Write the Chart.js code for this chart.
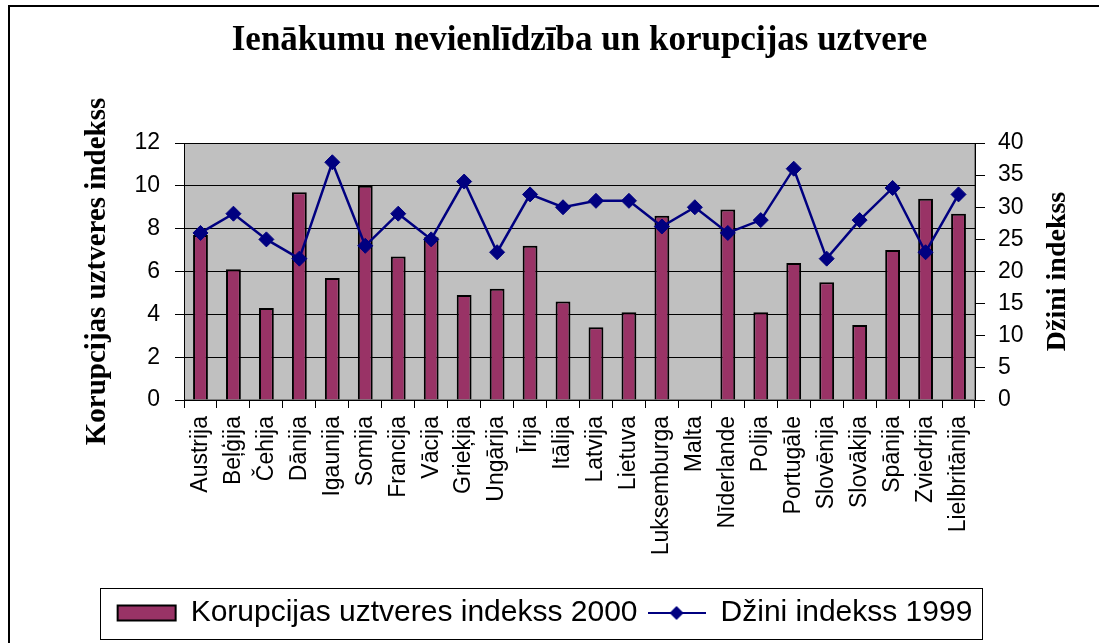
<!DOCTYPE html>
<html>
<head>
<meta charset="utf-8">
<title>Ienākumu nevienlīdzība un korupcijas uztvere</title>
<script src="https://cdn.jsdelivr.net/npm/chart.js@4.4.0/dist/chart.umd.min.js"></script>
<style>
  html, body { margin: 0; padding: 0; background: #fff; overflow: hidden; }
  #wrap { position: relative; width: 1099px; height: 643px; }
  #frame { position: absolute; left: 8px; top: 5px; width: 1200px; height: 800px; border-left: 2px solid #000; border-top: 2px solid #000; }
  canvas { position: absolute; left: 0; top: 0; }
</style>
</head>
<body>
<div id="wrap">
  <div id="frame"></div>
  <canvas id="graph" width="1099" height="643"></canvas>
</div>
<script>
let chartTitle = 'Ienākumu nevienlīdzība un korupcijas uztvere'
let leftAxisTitle = 'Korupcijas uztveres indekss'
let rightAxisTitle = 'Džini indekss'

let countries = ['Austrija', 'Beļģija', 'Čehija', 'Dānija', 'Igaunija', 'Somija', 'Francija', 'Vācija',
    'Grieķija', 'Ungārija', 'Īrija', 'Itālija', 'Latvija', 'Lietuva', 'Luksemburga', 'Malta',
    'Nīderlande', 'Polija', 'Portugāle', 'Slovēnija', 'Slovākija', 'Spānija', 'Zviedrija', 'Lielbritānija']

let corruptionLabel = 'Korupcijas uztveres indekss 2000'
let corruption2000 = [7.7, 6.1, 4.3, 9.7, 5.7, 10.0, 6.7, 7.6, 4.9, 5.2, 7.2, 4.6,
    3.4, 4.1, 8.6, null, 8.9, 4.1, 6.4, 5.5, 3.5, 7.0, 9.4, 8.7]

let giniLabel = 'Džini indekss 1999'
let gini1999 = [26, 29, 25, 22, 37, 24, 29, 25, 34, 23, 32, 30,
    31, 31, 27, 30, 26, 28, 36, 22, 28, 33, 23, 32]

let leftTicks = [0, 2, 4, 6, 8, 10, 12]
let rightTicks = [0, 5, 10, 15, 20, 25, 30, 35, 40]

let sans = '"Liberation Sans", Arial, sans-serif'
let serif = '"Liberation Serif", "Times New Roman", serif'

// little line + diamond picture for the legend
let lineIcon = document.createElement('canvas')
lineIcon.width = 58
lineIcon.height = 20
let ic = lineIcon.getContext('2d')
ic.strokeStyle = '#000080'
ic.lineWidth = 2
ic.beginPath(); ic.moveTo(0, 10); ic.lineTo(58, 10); ic.stroke()
ic.fillStyle = '#000080'
ic.beginPath(); ic.moveTo(29, 3); ic.lineTo(36, 10); ic.lineTo(29, 17); ic.lineTo(22, 10); ic.closePath(); ic.fill()

let chartExtras = {
    id: 'chartExtras',
    beforeDraw(chart) {
        let ctx = chart.ctx
        let a = chart.chartArea
        ctx.save()
        ctx.fillStyle = '#c0c0c0'
        ctx.fillRect(a.left, a.top, a.right - a.left, a.bottom - a.top)
        ctx.strokeStyle = '#808080'
        ctx.lineWidth = 1
        ctx.strokeRect(a.left + 0.5, a.top + 0.5, a.right - a.left - 1, a.bottom - a.top - 1)
        ctx.restore()
    },
    afterDraw(chart) {
        let ctx = chart.ctx
        let a = chart.chartArea
        let y1 = chart.scales.y1

        ctx.save()
        ctx.font = 'bold 28px ' + serif
        ctx.fillStyle = '#000'
        ctx.textAlign = 'center'
        ctx.textBaseline = 'middle'
        ctx.translate(y1.right - 32, (a.top + a.bottom) / 2)
        ctx.rotate(-Math.PI / 2)
        ctx.fillText(rightAxisTitle, 0, 0)
        ctx.restore()

        // frame round the legend
        let lg = chart.legend
        let boxes = lg.legendHitBoxes
        if (boxes && boxes.length) {
            let first = boxes[0]
            let last = boxes[boxes.length - 1]
            let l = Math.round(first.left - 18) + 0.5
            let r = Math.round(last.left + last.width + 10) + 0.5
            let t = Math.round(lg.top) + 0.5
            let b = Math.round(lg.bottom + 1) + 0.5
            ctx.save()
            ctx.strokeStyle = '#000'
            ctx.lineWidth = 1
            ctx.strokeRect(l, t, r - l, b - t)
            ctx.restore()
        }
    }
}

let graph = document.getElementById('graph').getContext('2d')

new Chart(graph, {
    type: 'bar',
    data: {
        labels: countries,
        datasets: [
            {
                type: 'bar',
                label: corruptionLabel,
                data: corruption2000,
                yAxisID: 'y',
                order: 1,
                backgroundColor: '#993366',
                borderColor: '#000',
                borderWidth: 2,
                categoryPercentage: 1,
                barPercentage: 0.45
            },
            {
                type: 'line',
                label: giniLabel,
                data: gini1999,
                yAxisID: 'y1',
                order: 0,
                borderColor: '#000080',
                backgroundColor: '#000080',
                borderWidth: 2.5,
                tension: 0,
                pointStyle: 'rectRot',
                pointRadius: 7.5,
                pointBorderWidth: 1,
                pointBackgroundColor: '#000080',
                pointBorderColor: '#000080'
            }
        ]
    },
    options: {
        responsive: false,
        animation: false,
        layout: { padding: { left: 0, right: 9, top: 0, bottom: 5 } },
        plugins: {
            tooltip: { enabled: false },
            title: {
                display: true,
                text: chartTitle,
                fullSize: false,
                color: '#000',
                font: { family: serif, size: 35, weight: 'bold' },
                padding: { top: 20, bottom: 81 }
            },
            legend: {
                position: 'bottom',
                labels: {
                    color: '#000',
                    font: { family: sans, size: 30 },
                    usePointStyle: true,
                    pointStyleWidth: 58,
                    boxHeight: 15,
                    padding: 10,
                    sort: (a, b) => a.datasetIndex - b.datasetIndex,
                    generateLabels(chart) {
                        let items = Chart.defaults.plugins.legend.labels.generateLabels(chart)
                        items.forEach(item => {
                            if (item.datasetIndex === 1) item.pointStyle = lineIcon
                            else item.pointStyle = 'rect'
                        })
                        return items
                    }
                }
            }
        },
        scales: {
            x: {
                afterFit(s) { s.height = 188 },
                grid: { offset: true, drawOnChartArea: false, color: '#000', tickLength: 8 },
                border: { color: '#000', width: 1 },
                ticks: {
                    color: '#000',
                    font: { family: sans, size: 23 },
                    autoSkip: false,
                    minRotation: 90,
                    maxRotation: 90,
                    padding: 8
                }
            },
            y: {
                position: 'left',
                min: 0,
                max: 12,
                afterFit(s) { s.width = 184 },
                afterBuildTicks(s) { s.ticks = leftTicks.map(v => ({ value: v })) },
                grid: { color: '#000', tickLength: 9 },
                border: { color: '#000', width: 1 },
                ticks: { color: '#000', font: { family: sans, size: 23 }, padding: 15 },
                title: {
                    display: true,
                    text: leftAxisTitle,
                    color: '#000',
                    font: { family: serif, size: 29, weight: 'bold' },
                    padding: { top: 80, bottom: 0 }
                }
            },
            y1: {
                position: 'right',
                min: 0,
                max: 40,
                afterFit(s) { s.width = 115 },
                afterBuildTicks(s) { s.ticks = rightTicks.map(v => ({ value: v })) },
                grid: { drawOnChartArea: false, color: '#000', tickLength: 10 },
                border: { color: '#000', width: 1 },
                ticks: { color: '#000', font: { family: sans, size: 23 }, padding: 13 }
            }
        }
    },
    plugins: [chartExtras]
})
</script>
</body>
</html>
